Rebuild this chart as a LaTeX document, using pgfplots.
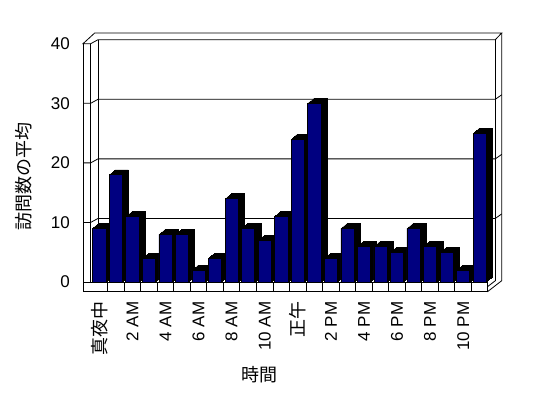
\documentclass[border=0pt]{standalone}
\usepackage{fontspec}
\setmainfont{Liberation Sans}
\newfontfamily\jp{Noto Sans CJK JP}
\usepackage{pgfplots}
\pgfplotsset{compat=1.18}
\usepackage{pgfplotstable}
\definecolor{navybar}{HTML}{000080}
\newcommand\J[1]{{\jp\fontsize{18bp}{21bp}\selectfont #1}}

\pgfplotstableread{
x v
0 9
1 18
2 11
3 4
4 8
5 8
6 2
7 4
8 14
9 9
10 7
11 11
12 24
13 30
14 4
15 9
16 6
17 6
18 5
19 9
20 6
21 5
22 2
23 25
}\hourdata

\begin{document}
\begin{tikzpicture}
\begin{scope}[x=1bp,y=-1bp,shift={(-91bp,282bp)}, line width=0.8bp]
\useasboundingbox (0,0) rectangle (548,398);
% left wall, floor slab
\draw (83,43.7) -- (83,291.7) -- (487.5,291.7) -- (487.5,282);
\draw (90.7,43.7) -- (90.7,282) -- (487.5,282);
\draw (83,43.7) -- (90.7,43.7) -- (98,39.7) -- (495.3,39.7) -- (501.7,33) -- (94.7,33) -- cycle;
\draw (98,39.7) -- (98,278);
\draw (495.3,39.7) -- (495.3,280.7);
\draw (501.7,33) -- (501.7,280.7) -- (487.5,291.7);
\draw (487.5,286.7) -- (495.3,280.7);
\foreach \k in {1,...,23} \draw ({91+16.54*\k},282) -- ({91+16.54*\k},291.7);
\foreach \v in {10,20,30} {
  \draw (83,{282-5.957*\v}) -- (90.7,{282-5.957*\v}) -- (98,{278-5.957*\v})
        -- (495.3,{278-5.957*\v}) -- (501.7,{273.5-5.957*\v});
}
\draw (83,282) -- (90.7,282);
\end{scope}
\begin{axis}[
  scale only axis, width=397bp, height=238.3bp,
  xmin=-0.5, xmax=23.5, ymin=0, ymax=40,
  axis x line*=bottom, axis y line*=left,
  axis line style={draw=none},
  major tick length=0pt,
  clip=false,
  xtick={0,2,...,22},
  xticklabels={\J{真夜中},2 AM,4 AM,6 AM,8 AM,10 AM,\J{正午},2 PM,4 PM,6 PM,8 PM,10 PM},
  xticklabel style={yshift=-19.5bp, rotate=90, anchor=east, inner sep=0pt,
    font=\fontsize{17bp}{20bp}\selectfont},
  ytick={0,10,20,30,40},
  /pgf/number format/assume math mode=true,
  yticklabel style={anchor=east, inner sep=0pt, xshift=-21bp,
    font=\fontsize{17bp}{20bp}\selectfont},
  ylabel={\J{訪問数の平均}},
  ylabel style={at={(rel axis cs:-0.1688,0.4448)}, anchor=center},
  xlabel={\J{時間}},
  xlabel style={at={(rel axis cs:0.4232,-0.387)}, anchor=center},
]
\pgfplotsinvokeforeach{6,5,4,3,2,1}{
  \addplot[ybar, bar width=13.2bp, bar shift=0pt, fill=black, draw=black,
    line width=0.4bp, xshift=#1bp, yshift=#1*0.83bp] table[x=x,y=v]{\hourdata};
}
\addplot[ybar, bar width=13.2bp, bar shift=0pt, fill=navybar, draw=black,
  line width=0.6bp] table[x=x,y=v]{\hourdata};
\end{axis}
\end{tikzpicture}
\end{document}
